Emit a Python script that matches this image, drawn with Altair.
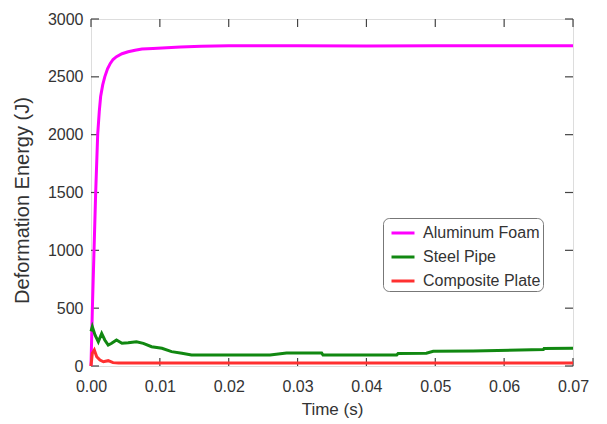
import altair as alt
import pandas as pd

# ---- data ----
series_names = ["Aluminum Foam", "Steel Pipe", "Composite Plate"]
series_colors = ["#ff00ff", "#118811", "#ff3030"]

foam_t = [0.0, 0.0001, 0.0002, 0.00044, 0.00068, 0.00097, 0.0012, 0.0014, 0.0017, 0.002,
          0.0024, 0.0028, 0.0032, 0.0037, 0.0045, 0.0054, 0.0064, 0.0074, 0.009, 0.011,
          0.013, 0.016, 0.02, 0.03, 0.04, 0.05, 0.06, 0.07]
foam_e = [0, 250, 500, 1000, 1500, 2000, 2200, 2330, 2430, 2500,
          2570, 2616, 2650, 2674, 2700, 2717, 2730, 2740, 2745, 2752,
          2758, 2765, 2768, 2768, 2767, 2768, 2768, 2768]

steel_t = [0.0, 0.00019, 0.00058, 0.00106, 0.00155, 0.002, 0.0025, 0.003, 0.0037, 0.0045,
           0.0054, 0.0066, 0.0076, 0.0088, 0.0103, 0.0117, 0.0132, 0.0146, 0.0209, 0.026,
           0.0284, 0.0335, 0.0337, 0.0444, 0.0446, 0.0487, 0.0497, 0.0555, 0.0657, 0.0658, 0.07]
steel_e = [300, 340, 268, 210, 282, 225, 181, 196, 225, 196,
           201, 210, 196, 167, 153, 124, 110, 95, 95, 95,
           112, 112, 95, 95, 108, 110, 128, 130, 143, 152, 153]

comp_t = [0.0, 0.00019, 0.00048, 0.00083, 0.0013, 0.0018, 0.0025, 0.0032, 0.004, 0.01,
          0.02, 0.03, 0.04, 0.05, 0.06, 0.07]
comp_e = [0, 110, 138, 80, 52, 37, 46, 29, 25, 25,
          25, 25, 25, 25, 25, 25]

x_ticks = [0.0, 0.01, 0.02, 0.03, 0.04, 0.05, 0.06, 0.07]
y_ticks = [0, 500, 1000, 1500, 2000, 2500, 3000]

rows = []
for name, ts, es in [(series_names[0], foam_t, foam_e),
                     (series_names[1], steel_t, steel_e),
                     (series_names[2], comp_t, comp_e)]:
    for i, (t, e) in enumerate(zip(ts, es)):
        rows.append({"Series": name, "t": t, "E": e, "order": i})
df = pd.DataFrame(rows)
xt_df = pd.DataFrame({"t": x_ticks})
yt_df = pd.DataFrame({"E": y_ticks})

W, H = 482, 347
TL = 8  # tick length
FONT = "Liberation Sans"
GREY = "#333333"
TICK_COLOR = "#444444"

xscale = alt.Scale(domain=[0, 0.07], nice=False)
yscale = alt.Scale(domain=[0, 3000], nice=False)

main = alt.Chart(df).mark_line(strokeWidth=3).encode(
    x=alt.X("t:Q", scale=xscale,
            axis=alt.Axis(values=x_ticks, format=".2f", title="Time (s)", ticks=False,
                          domain=False, grid=False, labelPadding=12, titlePadding=7,
                          labelFontSize=16, titleFontSize=17, labelColor=GREY,
                          titleColor=GREY, labelFont=FONT, titleFont=FONT,
                          titleFontWeight="normal", labelFlush=False)),
    y=alt.Y("E:Q", scale=yscale,
            axis=alt.Axis(values=y_ticks, format="d", title="Deformation Energy (J)",
                          ticks=False, domain=False, grid=False, labelPadding=8,
                          titlePadding=15, titleY=181,
                          labelFontSize=16, titleFontSize=20, labelColor=GREY,
                          titleColor=GREY, labelFont=FONT, titleFont=FONT,
                          titleFontWeight="normal", labelFlush=False)),
    color=alt.Color("Series:N",
                    scale=alt.Scale(domain=series_names, range=series_colors),
                    sort=series_names,
                    legend=alt.Legend(title=None, orient="none", legendX=292, legendY=199,
                                      symbolType="stroke", symbolSize=529,
                                      symbolStrokeWidth=3, labelFontSize=16,
                                      labelFont=FONT, labelColor=GREY, labelLimit=400,
                                      strokeColor="#777777", cornerRadius=6,
                                      fillColor="white", padding=2, rowPadding=3,
                                      symbolOffset=5, labelOffset=7)),
    order="order:Q",
)

# inward tick marks on all four sides, placed through the shared scales
tick_style = dict(color=TICK_COLOR, strokeWidth=1.2)
xt_bottom = alt.Chart(xt_df).mark_rule(**tick_style).encode(
    x=alt.X("t:Q", scale=xscale), y=alt.value(H), y2=alt.value(H - TL))
xt_top = alt.Chart(xt_df).mark_rule(**tick_style).encode(
    x=alt.X("t:Q", scale=xscale), y=alt.value(0), y2=alt.value(TL))
yt_left = alt.Chart(yt_df).mark_rule(**tick_style).encode(
    y=alt.Y("E:Q", scale=yscale), x=alt.value(0), x2=alt.value(TL))
yt_right = alt.Chart(yt_df).mark_rule(**tick_style).encode(
    y=alt.Y("E:Q", scale=yscale), x=alt.value(W), x2=alt.value(W - TL))

chart = alt.layer(xt_bottom, xt_top, yt_left, yt_right, main).properties(
    width=W, height=H,
    autosize=alt.AutoSizeParams(type="none"),
    padding={"left": 83, "top": 11, "right": 20, "bottom": 58},
).configure_view(stroke="#555555", strokeWidth=1.5).configure(background="white")

chart.save("out.html", embed_options={"renderer": "svg", "actions": False})
